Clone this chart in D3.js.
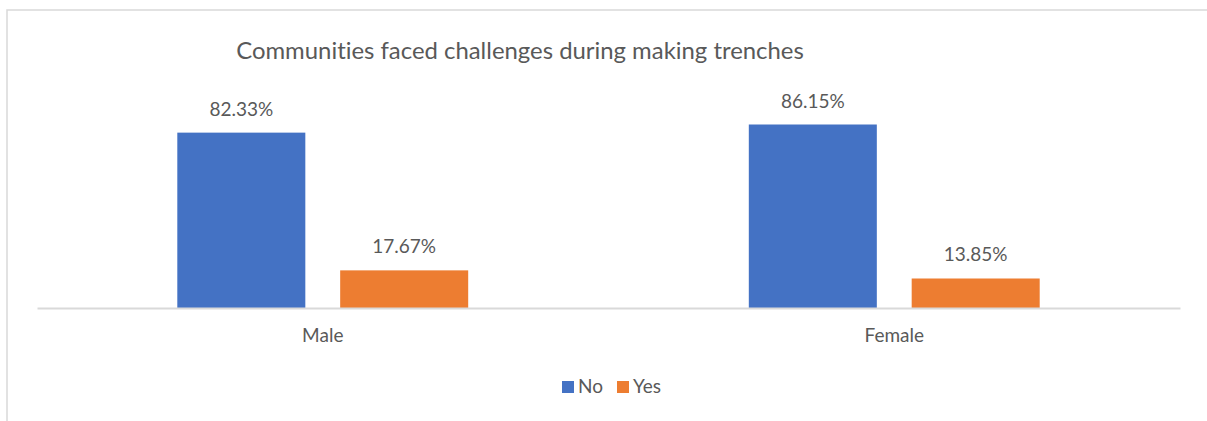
<!DOCTYPE html>
<meta charset="utf-8">

<style>

body {
  margin: 0;
  background: #fff;
}

text {
  font-family: Lato, "Noto Sans", sans-serif;
  font-variant-ligatures: none;
  fill: #595959;
}

.frame {
  fill: none;
  stroke: #d9d9d9;
  stroke-width: 1.5px;
}

.domain {
  stroke: #d9d9d9;
  stroke-width: 2px;
}

</style>

<body>

<svg id="chart" width="1207" height="421"></svg>

<script src="https://d3js.org/d3.v7.min.js"></script>
<script>

const title = "Communities faced challenges during making trenches"
const categories = ["Male", "Female"]
const series = ["No", "Yes"]
const noValues = [82.33, 86.15]
const yesValues = [17.67, 13.85]
const colors = ["#4472c4", "#ed7d31"]

const width = 1207
const height = 421

const svg = d3.select("#chart")

// chart frame, runs off the right and bottom edge like the screenshot
svg.append("rect")
    .attr("class", "frame")
    .attr("x", 7).attr("y", 10)
    .attr("width", width + 20).attr("height", height + 20)

svg.append("text")
    .attr("x", 520).attr("y", 59)
    .attr("text-anchor", "middle")
    .style("font-size", "23.9px")
    .text(title)

const x0 = d3.scaleBand()
    .domain(categories)
    .range([37, 1180])
    .paddingInner(0.491)
    .paddingOuter(0.2455)

const x1 = d3.scaleBand()
    .domain(series)
    .range([0, x0.bandwidth()])
    .paddingInner(0.214)

const y = d3.scaleLinear()
    .domain([0, 100])
    .range([308, 95])

const rows = categories.map((c, i) => ({
  category: c,
  values: [noValues[i], yesValues[i]].map((v, j) => ({key: series[j], value: v, color: colors[j]}))
}))

const groups = svg.selectAll("g.group")
  .data(rows)
  .join("g")
    .attr("class", "group")
    .attr("transform", d => `translate(${x0(d.category)},0)`)

groups.selectAll("rect")
  .data(d => d.values)
  .join("rect")
    .attr("x", d => x1(d.key))
    .attr("y", d => y(d.value))
    .attr("width", x1.bandwidth())
    .attr("height", d => y(0) - y(d.value))
    .attr("fill", d => d.color)

groups.selectAll("text.label")
  .data(d => d.values)
  .join("text")
    .attr("class", "label")
    .attr("x", d => x1(d.key) + x1.bandwidth() / 2)
    .attr("y", d => y(d.value) - 17)
    .attr("text-anchor", "middle")
    .style("font-size", "19px")
    .text(d => d.value.toFixed(2) + "%")

const xAxis = svg.append("g")
    .attr("transform", `translate(0,${y(0)})`)
    .call(d3.axisBottom(x0).tickSize(0).tickPadding(21))

xAxis.selectAll("text")
    .style("font-size", "19px")
    .style("font-family", null)
    .attr("fill", null)

// legend
const legend = svg.append("g")
    .attr("transform", "translate(562,381)")

const legendX = [0, 55]
const item = legend.selectAll("g")
  .data(series)
  .join("g")
    .attr("transform", (d, i) => `translate(${legendX[i]},0)`)

item.append("rect")
    .attr("width", 12).attr("height", 12)
    .attr("fill", (d, i) => colors[i])

item.append("text")
    .attr("x", 16).attr("y", 12)
    .style("font-size", "19px")
    .text(d => d)

</script>
